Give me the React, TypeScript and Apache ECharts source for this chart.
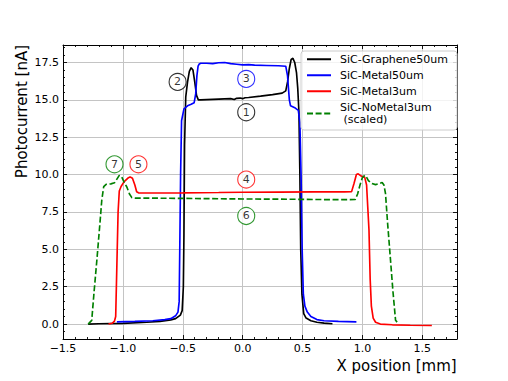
import React, { useEffect, useRef } from "react";
import * as echarts from "echarts";

const seriesNames = ["SiC-Graphene50um", "SiC-Metal50um", "SiC-Metal3um", "SiC-NoMetal3um\n (scaled)"];

const grapheneX = [-1.29, -1.2, -1.0, -0.8, -0.69, -0.6, -0.56, -0.52, -0.505, -0.495, -0.49, -0.485, -0.475, -0.46, -0.445, -0.43, -0.415, -0.4, -0.385, -0.37, -0.35, -0.2, -0.1, -0.07, -0.05, -0.02, 0.0, 0.02, 0.05, 0.15, 0.25, 0.33, 0.36, 0.375, 0.39, 0.405, 0.42, 0.435, 0.45, 0.46, 0.47, 0.478, 0.485, 0.495, 0.51, 0.53, 0.57, 0.62, 0.68, 0.75];
const grapheneY = [0.0, 0.02, 0.05, 0.12, 0.18, 0.28, 0.36, 0.6, 0.9, 2.5, 6.0, 12.0, 15.2, 16.2, 16.9, 17.15, 17.0, 16.2, 15.3, 15.0, 15.0, 15.05, 15.08, 15.02, 15.1, 15.12, 15.08, 15.14, 15.16, 15.25, 15.35, 15.45, 15.6, 16.2, 17.1, 17.7, 17.78, 17.5, 16.8, 15.8, 14.2, 10.0, 5.0, 2.0, 0.7, 0.4, 0.22, 0.12, 0.06, 0.02];

const metal50X = [-1.05, -0.9, -0.75, -0.65, -0.6, -0.56, -0.54, -0.53, -0.525, -0.518, -0.51, -0.49, -0.46, -0.43, -0.405, -0.392, -0.382, -0.372, -0.362, -0.35, -0.3, -0.25, -0.2, -0.15, -0.1, -0.05, 0.0, 0.05, 0.1, 0.2, 0.3, 0.36, 0.375, 0.39, 0.4, 0.44, 0.465, 0.478, 0.488, 0.497, 0.507, 0.52, 0.54, 0.57, 0.62, 0.68, 0.8, 0.95];
const metal50Y = [0.15, 0.18, 0.22, 0.3, 0.36, 0.55, 0.8, 1.5, 5.0, 10.0, 13.6, 14.4, 14.6, 14.7, 14.8, 15.4, 16.6, 17.25, 17.4, 17.45, 17.45, 17.42, 17.48, 17.5, 17.42, 17.38, 17.34, 17.36, 17.32, 17.3, 17.28, 17.25, 16.6, 15.0, 14.6, 14.45, 14.3, 13.5, 10.0, 5.0, 2.0, 1.2, 0.8, 0.5, 0.3, 0.22, 0.18, 0.15];

const metal3X = [-1.12, -1.09, -1.07, -1.06, -1.05, -1.04, -1.03, -1.015, -1.0, -0.98, -0.96, -0.94, -0.92, -0.9, -0.885, -0.87, -0.8, -0.5, -0.2, 0.0, 0.3, 0.6, 0.85, 0.91, 0.93, 0.95, 0.965, 0.99, 1.02, 1.035, 1.045, 1.055, 1.065, 1.075, 1.09, 1.11, 1.15, 1.25, 1.4, 1.58];
const metal3Y = [0.0, 0.05, 0.2, 0.5, 4.0, 7.5, 8.9, 9.2, 9.4, 9.6, 9.75, 9.85, 9.75, 9.3, 8.85, 8.78, 8.77, 8.78, 8.8, 8.82, 8.83, 8.84, 8.84, 8.86, 9.4, 10.0, 10.05, 9.9, 9.8, 9.3, 7.8, 6.3, 3.0, 1.2, 0.4, 0.12, 0.0, -0.05, -0.08, -0.1];

const noMetalX = [-1.29, -1.26, -1.24, -1.217, -1.19, -1.176, -1.16, -1.14, -1.1, -1.07, -1.05, -1.03, -1.01, -0.99, -0.967, -0.945, -0.925, -0.9, -0.7, -0.4, 0.0, 0.4, 0.8, 0.94, 0.96, 0.98, 1.0, 1.02, 1.03, 1.05, 1.08, 1.11, 1.14, 1.165, 1.18, 1.193, 1.21, 1.235, 1.255, 1.277, 1.29];
const noMetalY = [0.0, 0.25, 2.2, 4.3, 6.9, 8.3, 9.2, 9.35, 9.38, 9.45, 9.7, 9.95, 9.85, 9.5, 9.17, 8.7, 8.46, 8.43, 8.42, 8.4, 8.37, 8.35, 8.32, 8.33, 8.7, 9.3, 9.8, 9.95, 9.9, 9.6, 9.4, 9.33, 9.4, 9.47, 9.3, 8.73, 6.8, 4.26, 2.2, 0.25, 0.13];

const annotationLabels = ["1", "2", "3", "4", "5", "6", "7"];
const annotationX = [0.03, -0.543, 0.03, 0.03, -0.87, 0.03, -1.07];
const annotationY = [14.17, 16.2, 16.4, 9.67, 10.69, 7.23, 10.69];
const annotationColors = ["#000000", "#000000", "#0000ff", "#ff0000", "#ff0000", "#008000", "#008000"];

const xMajorTicks = [-1.5, -1.0, -0.5, 0.0, 0.5, 1.0, 1.5];
const xMinorTicks = [-1.4, -1.3, -1.2, -1.1, -0.9, -0.8, -0.7, -0.6, -0.4, -0.3, -0.2, -0.1, 0.1, 0.2, 0.3, 0.4, 0.6, 0.7, 0.8, 0.9, 1.1, 1.2, 1.3, 1.4, 1.6, 1.7];
const yMajorTicks = [0.0, 2.5, 5.0, 7.5, 10.0, 12.5, 15.0, 17.5];
const yMinorTicks = [-0.5, 0.5, 1.0, 1.5, 2.0, 3.0, 3.5, 4.0, 4.5, 5.5, 6.0, 6.5, 7.0, 8.0, 8.5, 9.0, 9.5, 10.5, 11.0, 11.5, 12.0, 13.0, 13.5, 14.0, 14.5, 15.5, 16.0, 16.5, 17.0, 18.0, 18.5];

const xMin = -1.5;
const xMax = 1.79;
const yMin = -1.0;
const yMax = 18.67;

const FONT = "DejaVu Sans";

function pairs(xs: number[], ys: number[]) {
  return xs.map((x, i) => [x, ys[i]]);
}

export default function App() {
  const ref = useRef<HTMLDivElement>(null);
  useEffect(() => {
    if (!ref.current) return;
    const chart = echarts.init(ref.current, undefined, { renderer: "svg" });
    const tickLine = { color: "#000", width: 0.9 };
    const gridLine = { color: "#c4c4c4", width: 1 };

    const makeAxis = (
      kind: "x" | "y",
      position: string,
      major: boolean,
      withLine: boolean,
      withLabels: boolean,
      withSplit: boolean
    ) => {
      const values = kind === "x" ? (major ? xMajorTicks : xMinorTicks) : major ? yMajorTicks : yMinorTicks;
      return {
        type: "value",
        position,
        min: kind === "x" ? xMin : yMin,
        max: kind === "x" ? xMax : yMax,
        axisLine: { show: withLine, onZero: false, lineStyle: { color: "#000", width: 1 } },
        axisTick: {
          show: true,
          inside: true,
          length: major ? 4 : 2,
          lineStyle: tickLine,
          customValues: values,
        },
        minorTick: { show: false },
        splitLine: { show: withSplit, lineStyle: gridLine },
        axisLabel: withLabels
          ? {
              show: true,
              margin: 4,
              fontSize: 11,
              fontFamily: FONT,
              color: "#000",
              customValues: values,
              formatter: (v: number) => v.toFixed(1).replace("-", "\u2212"),
            }
          : { show: false },
      };
    };

    const lineColors = ["#000000", "#0000ff", "#ff0000", "#008000"];
    const datasets = [
      pairs(grapheneX, grapheneY),
      pairs(metal50X, metal50Y),
      pairs(metal3X, metal3Y),
      pairs(noMetalX, noMetalY),
    ];
    const lineSeries = datasets.map((d, i) => ({
      name: seriesNames[i],
      type: "line" as const,
      data: d,
      xAxisIndex: 0,
      yAxisIndex: 0,
      symbol: "none",
      showSymbol: false,
      smooth: false,
      z: 2 + i,
      lineStyle: {
        color: lineColors[i],
        width: 1.65,
        type: i === 3 ? [6, 2.6] : "solid",
      },
      itemStyle: { color: lineColors[i] },
    }));
    const annotationSeries = {
      name: "annotations",
      type: "scatter" as const,
      xAxisIndex: 0,
      yAxisIndex: 0,
      symbol: "circle",
      symbolSize: 17,
      z: 10,
      data: annotationLabels.map((lab, i) => ({
        value: [annotationX[i], annotationY[i]],
        name: lab,
        itemStyle: { color: "#ffffff", borderColor: annotationColors[i], borderWidth: 1.1 },
      })),
      label: {
        show: true,
        position: "inside",
        formatter: (p: any) => p.name,
        fontSize: 11,
        fontFamily: FONT,
        color: "#000",
      },
      emphasis: { disabled: true },
    };
    chart.setOption({
      animation: false,
      backgroundColor: "#ffffff",
      textStyle: { fontFamily: FONT },
      grid: { left: 63, right: 51, top: 45, bottom: 42, containLabel: false },
      xAxis: [
        makeAxis("x", "bottom", true, true, true, true),
        makeAxis("x", "bottom", false, false, false, false),
        makeAxis("x", "top", true, true, false, false),
        makeAxis("x", "top", false, false, false, false),
      ],
      yAxis: [
        makeAxis("y", "left", true, true, true, true),
        makeAxis("y", "left", false, false, false, false),
        makeAxis("y", "right", true, true, false, false),
        makeAxis("y", "right", false, false, false, false),
      ],
      legend: {
        show: true,
        orient: "vertical",
        left: 301,
        top: 51,
        data: seriesNames,
        itemWidth: 24,
        itemHeight: 14,
        itemGap: 3.5,
        padding: [2, 9, 4, 5],
        backgroundColor: "rgba(255,255,255,0.8)",
        borderColor: "#cccccc",
        borderWidth: 1,
        borderRadius: 3,
        selectedMode: false,
        itemStyle: { opacity: 0 },
        textStyle: {
          fontSize: 11,
          fontFamily: FONT,
          color: "#000",
          lineHeight: 12.5,
          padding: [0, 0, 0, 4],
        },
      },
      graphic: [
        {
          type: "text",
          x: 456.7,
          y: 366,
          style: {
            text: "X position [mm]",
            fontSize: 15,
            fontFamily: FONT,
            fill: "#000",
            align: "right",
            verticalAlign: "middle",
          },
        },
        {
          type: "text",
          x: 22,
          y: 45,
          rotation: Math.PI / 2,
          style: {
            text: "Photocurrent [nA]",
            fontSize: 15,
            fontFamily: FONT,
            fill: "#000",
            align: "right",
            verticalAlign: "middle",
          },
        },
      ],
      series: [...lineSeries, annotationSeries],
    });
    return () => chart.dispose();
  }, []);
  return <div ref={ref} style={{ width: 508, height: 381, position: "absolute", left: 0, top: 0 }} />;
}
